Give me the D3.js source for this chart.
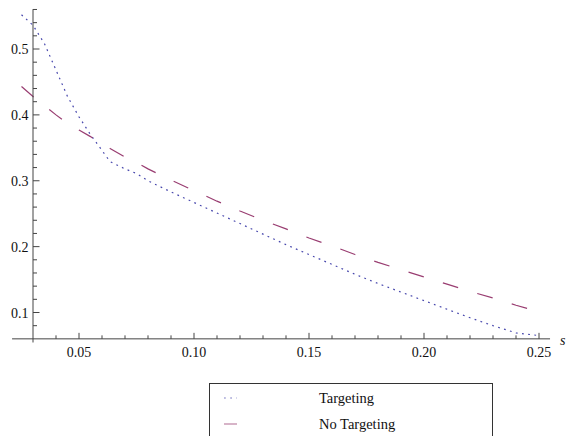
<!DOCTYPE html>
<html>
<head>
<meta charset="utf-8">
<script src="https://cdn.jsdelivr.net/npm/d3@7"></script>
<style>
  body { margin: 0; background: #fff; }
  svg text { font-family: "Liberation Serif", "Times New Roman", "DejaVu Serif", serif; }
</style>
</head>
<body>
<div class="canvas"></div>
<script>
// s values and the two curves
const sValues = [0.025, 0.03, 0.035, 0.04, 0.045, 0.05, 0.055, 0.06, 0.0635, 0.07, 0.075,
  0.08, 0.09, 0.10, 0.11, 0.12, 0.13, 0.14, 0.15, 0.16, 0.17, 0.18, 0.19, 0.20,
  0.21, 0.22, 0.23, 0.24, 0.25];
const targeting = [0.552, 0.536, 0.508, 0.468, 0.428, 0.397, 0.370, 0.346, 0.329, 0.318, 0.311,
  0.300, 0.283, 0.267, 0.251, 0.235, 0.219, 0.203, 0.188, 0.173, 0.158, 0.144, 0.131, 0.118,
  0.105, 0.092, 0.080, 0.069, 0.065];
const noTargeting = [0.443, 0.428, 0.414, 0.400, 0.387, 0.377, 0.367, 0.356, 0.349, 0.336, 0.328,
  0.318, 0.301, 0.285, 0.269, 0.254, 0.240, 0.227, 0.213, 0.201, 0.188, 0.176, 0.165, 0.154,
  0.143, 0.132, 0.122, 0.111, 0.101];

const xTicks = [0.05, 0.10, 0.15, 0.20, 0.25];
const yTicks = [0.1, 0.2, 0.3, 0.4, 0.5];
const seriesNames = ["Targeting", "No Targeting"];

const dims = { width: 568, height: 436 };

const svg = d3
  .select(".canvas")
  .append("svg")
  .attr("width", dims.width)
  .attr("height", dims.height);

const x = d3.scaleLinear().domain([0.05, 0.25]).range([79, 539]);
const y = d3.scaleLinear().domain([0.1, 0.5]).range([312.5, 49]);

const origin = { s: 0.03, v: 0.06 };
const axisColor = "#444";

// curves
const series = [
  { name: seriesNames[0], values: targeting, color: "#4848ad", dash: "1.8,4.4" },
  { name: seriesNames[1], values: noTargeting, color: "#993d71", dash: "16,20" },
];

const line = d3
  .line()
  .x((d) => x(d[0]))
  .y((d) => y(d[1]));

svg
  .selectAll("path.curve")
  .data(series)
  .enter()
  .append("path")
  .attr("class", "curve")
  .attr("fill", "none")
  .attr("stroke", (d) => d.color)
  .attr("stroke-width", 1.2)
  .attr("stroke-dasharray", (d) => d.dash)
  .attr("d", (d) => line(sValues.map((s, i) => [s, d.values[i]])));

// axes
const axes = svg.append("g").attr("stroke", axisColor).attr("stroke-width", 1);

axes
  .append("line")
  .attr("x1", x(0.0209))
  .attr("x2", x(0.2548))
  .attr("y1", y(origin.v))
  .attr("y2", y(origin.v));

axes
  .append("line")
  .attr("x1", x(origin.s))
  .attr("x2", x(origin.s))
  .attr("y1", y(0.5605))
  .attr("y2", y(0.0545));

// x ticks (pointing up)
const xMinor = d3.range(4, 26).map((k) => k / 100);
axes
  .selectAll("line.xt")
  .data(xMinor)
  .enter()
  .append("line")
  .attr("x1", (d) => x(d))
  .attr("x2", (d) => x(d))
  .attr("y1", y(origin.v))
  .attr("y2", (d) => y(origin.v) - (Math.round(d * 100) % 5 === 0 ? 6 : 3.5));

// y ticks (pointing right)
const yMinor = d3.range(4, 29).map((k) => k / 50);
axes
  .selectAll("line.yt")
  .data(yMinor)
  .enter()
  .append("line")
  .attr("x1", x(origin.s))
  .attr("x2", (d) => x(origin.s) + (Math.round(d * 50) % 5 === 0 ? 6.5 : 4))
  .attr("y1", (d) => y(d))
  .attr("y2", (d) => y(d));

// tick labels
svg
  .selectAll("text.xl")
  .data(xTicks)
  .enter()
  .append("text")
  .attr("x", (d) => x(d))
  .attr("y", y(origin.v) + 18.5)
  .attr("text-anchor", "middle")
  .attr("font-size", 14)
  .attr("fill", "#111")
  .text((d) => d.toFixed(2));

svg
  .selectAll("text.yl")
  .data(yTicks)
  .enter()
  .append("text")
  .attr("x", x(origin.s) - 4.5)
  .attr("y", (d) => y(d) + 5)
  .attr("text-anchor", "end")
  .attr("font-size", 14)
  .attr("fill", "#111")
  .text((d) => d.toFixed(1));

svg
  .append("text")
  .attr("x", 560)
  .attr("y", y(origin.v) + 6)
  .attr("font-size", 14)
  .attr("font-style", "italic")
  .attr("fill", "#111")
  .text("s");

// legend
const legendGroup = svg.append("g").attr("transform", "translate(209, 383)");

legendGroup
  .append("rect")
  .attr("x", 0.5)
  .attr("y", 0.5)
  .attr("width", 283)
  .attr("height", 80)
  .attr("fill", "#fff")
  .attr("stroke", "#333")
  .attr("stroke-width", 1);

const items = legendGroup
  .selectAll("g.item")
  .data(series)
  .enter()
  .append("g")
  .attr("class", "item")
  .attr("transform", (d, i) => `translate(0, ${15 + i * 26})`);

items
  .append("line")
  .attr("x1", 15)
  .attr("x2", 28)
  .attr("y1", 0)
  .attr("y2", 0)
  .attr("stroke", (d) => d.color)
  .attr("stroke-opacity", 0.7)
  .attr("stroke-width", 1.1)
  .attr("stroke-dasharray", (d, i) => (i === 0 ? "1.8,4.4" : null));

items
  .append("text")
  .attr("x", 110)
  .attr("y", 5)
  .attr("font-size", 14.5)
  .attr("fill", "#111")
  .text((d) => d.name);
</script>
</body>
</html>
